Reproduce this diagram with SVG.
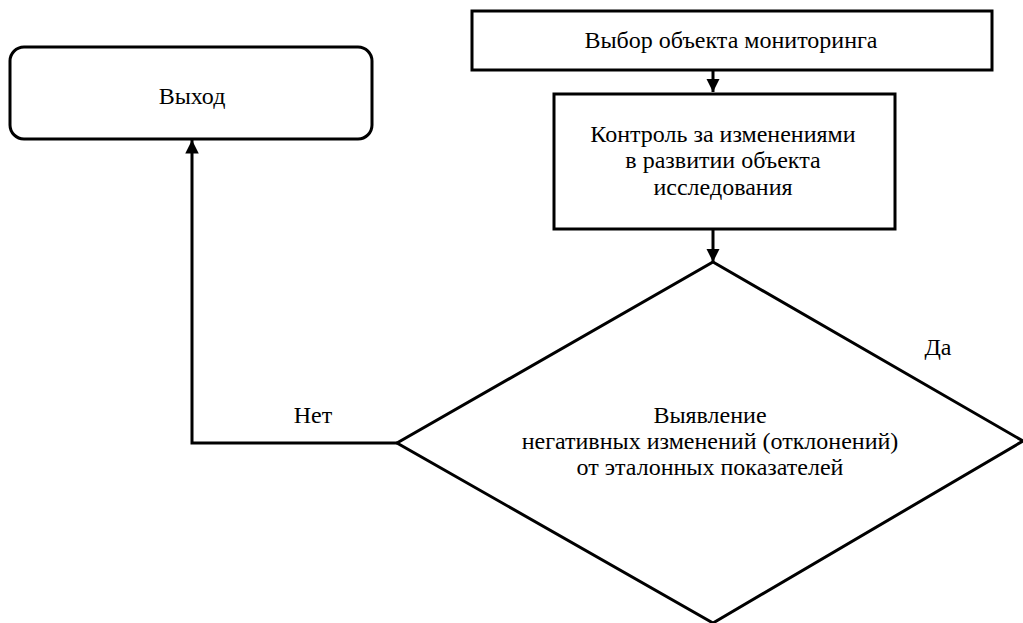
<svg xmlns="http://www.w3.org/2000/svg" width="1023" height="623" viewBox="0 0 1023 623">
<defs>
<style>
.box{fill:#fff;stroke:#000;stroke-width:3}
.ln{fill:none;stroke:#000;stroke-width:3}
text{font-family:"Liberation Serif","Times New Roman",serif;font-size:24px;fill:#000;text-anchor:middle}
</style>
<marker id="ah" viewBox="0 0 10 10" refX="10" refY="5" markerWidth="4.5" markerHeight="4.5" markerUnits="strokeWidth" orient="auto">
<path d="M0,0 L10,5 L0,10 Z" fill="#000"/>
</marker>
</defs>
<rect width="1023" height="623" fill="#fff"/>
<g id="connectors">
<line class="ln" x1="713" y1="70" x2="713" y2="92" marker-end="url(#ah)"/>
<line class="ln" x1="713" y1="229" x2="713" y2="262" marker-end="url(#ah)"/>
<polyline class="ln" points="397,443 192,443 192,140" marker-end="url(#ah)"/>
<text x="313" y="423">Нет</text>
<text x="938" y="355">Да</text>
</g>
<g id="n_exit">
<rect class="box" x="10" y="47" width="362" height="92" rx="14"/>
<text x="192" y="104">Выход</text>
</g>
<g id="n_select">
<rect class="box" x="472" y="11" width="520" height="59"/>
<text x="731" y="48">Выбор объекта мониторинга</text>
</g>
<g id="n_control">
<rect class="box" x="554" y="94" width="341" height="135"/>
<text x="723" y="142">Контроль за изменениями</text>
<text x="723" y="168">в развитии объекта</text>
<text x="723" y="195">исследования</text>
</g>
<g id="n_decision">
<polygon class="box" points="713,262 1023,441 713,623 397,443"/>
<text x="710" y="423">Выявление</text>
<text x="710" y="449">негативных изменений (отклонений)</text>
<text x="710" y="475">от эталонных показателей</text>
</g>
</svg>
